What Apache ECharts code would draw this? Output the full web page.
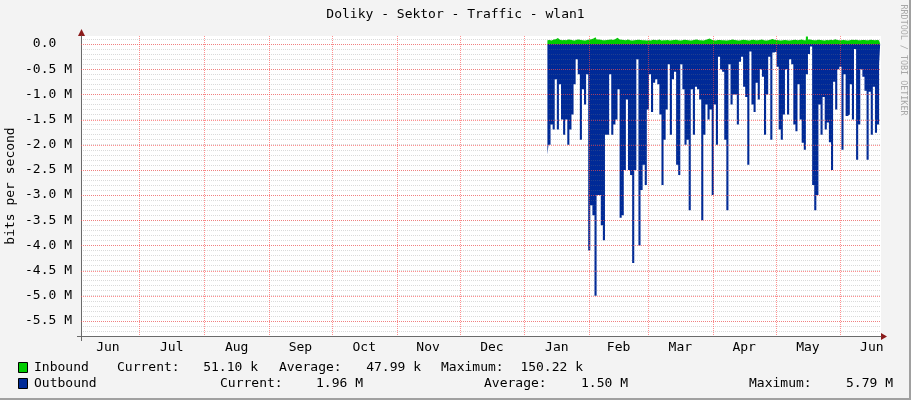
<!DOCTYPE html>
<html><head><meta charset="utf-8">
<script src="https://cdn.jsdelivr.net/npm/echarts@6/dist/echarts.min.js"></script>
<style>html,body{margin:0;padding:0;background:#f3f3f3}#c{width:911px;height:400px}</style>
</head><body><div id="c"></div>
<script>
// ---- data (x unit: days counted from Jul 1) ----
const monthNames = ['Jun','Jul','Aug','Sep','Oct','Nov','Dec','Jan','Feb','Mar','Apr','May','Jun'];
const monthMidDays = [-15, 15.5, 46.5, 77, 107.5, 138, 168.5, 199.5, 229, 258.5, 289, 319.5, 350];
const monthStartDays = [0, 31, 62, 92, 123, 153, 184, 215, 243, 274, 304, 335];
const xMinDay = -27.86, xMaxDay = 354.4;
const dataStartDay = 195; // Jan 12, one sample per day

const yTickValuesM = [0, -0.5, -1, -1.5, -2, -2.5, -3, -3.5, -4, -4.5, -5, -5.5];
const yTickLabels = ['0.0  ', '-0.5 M', '-1.0 M', '-1.5 M', '-2.0 M', '-2.5 M', '-3.0 M', '-3.5 M', '-4.0 M', '-4.5 M', '-5.0 M', '-5.5 M'];

// Inbound (kbit/s)
const inboundKbps = [
 78,82,70,88,95,120,85,76,80,74, 90,84,78,72,86,92,80,75,70,82, 88,96,110,135,90,84,78,76,80,86, 92,82,
 100,125,90,84,80,76,88,74,70,78, 82,86,80,76,74,72,78,70,84,80, 76,90,72,74,78,82,70,76,80,86, 74,70,
 78,84,80,76,72,74,86,90,78,76, 72,80,95,110,84,76,72,80,82,78, 74,70,76,82,88,80,76,72,78,84, 80,76,
 72,80,86,78,74,82,90,76,72,78, 84,100,86,80,74,72,78,82,76,70, 74,80,86,78,82,90,76,74,150,88, 80,76,
 78,84,80,74,72,80,76,84,78,96, 82,76,74,80,78,72,76,84,80,86, 78,74,80,82,76,78,84,80,76,82, 78,74
];
// Outbound (Mbit/s, drawn below zero)
const outboundMbps = [
 2.2,2.0,1.6,1.7,0.7,1.7,0.8,1.5,1.8,1.5, 2.0,1.7,1.4,0.8,0.3,0.6,1.9,0.9,1.2,0.6,
 4.1,3.2,3.4,5.0,3.0,3.0,3.6,3.9,1.8,1.8, 0.6,1.8,1.6,1.5,0.9,3.45,3.4,2.5,1.1,2.5,
 2.6,4.35,2.5,0.3,4.0,2.9,2.4,2.8,1.3,0.6, 1.35,0.77,0.7,0.8,1.4,2.8,1.9,1.3,0.4,1.8,
 0.7,0.55,2.4,2.6,0.4,0.9,2.0,1.9,3.3,0.9, 1.8,0.85,0.9,1.1,3.5,1.8,1.2,1.5,1.3,3.0,
 1.2,2.0,0.25,0.5,0.55,1.9,3.3,0.4,1.2,1.0, 1.0,1.6,0.35,0.25,0.85,1.05,2.4,0.15,1.2,1.35,
 0.77,1.1,0.5,0.65,1.8,1.0,0.25,1.9,0.17,0.15, 0.45,1.7,1.9,1.4,0.5,1.4,0.3,0.4,1.6,1.73,
 0.8,1.5,1.96,2.1,0.6,0.2,0.05,2.8,3.3,3.0, 1.2,1.8,1.05,1.7,1.56,1.95,2.5,0.75,1.3,0.5,
 0.45,2.1,0.6,1.43,1.4,0.8,1.5,0.1,2.3,1.6, 0.5,0.65,0.93,2.3,0.95,1.8,0.85,1.76,1.6,0.4
];

const inboundStats = ['51.10 k', '47.99 k', '150.22 k'];
const outboundStats = ['1.96 M', '1.50 M', '5.79 M'];

// ---- chart ----
const FONT = '"DejaVu Sans Mono", monospace';
const GRAY = 'rgba(120,120,120,0.27)', RED = 'rgba(255,70,70,0.6)';
const chart = echarts.init(document.getElementById('c'), null, {renderer: 'canvas'});

function txt(x, y, s, align, extra) {
  return Object.assign({type: 'text', x: x, y: y, silent: true,
    style: {text: s, fill: '#000', font: '13px ' + FONT, textAlign: align || 'left', textVerticalAlign: 'middle'}}, extra || {});
}

const graphics = [
  {type: 'rect', shape: {x: 909, y: 0, width: 2, height: 400}, style: {fill: '#a0a0a0'}, silent: true},
  {type: 'rect', shape: {x: 0, y: 398, width: 911, height: 2}, style: {fill: '#a0a0a0'}, silent: true},
  txt(455.5, 15, 'Doliky - Sektor - Traffic - wlan1', 'center'),
  txt(11, 186, 'bits per second', 'center', {rotation: Math.PI / 2}),
  {type: 'text', x: 903, y: 60, rotation: -Math.PI / 2, silent: true,
   style: {text: 'RRDTOOL / TOBI OETIKER', fill: '#a8a8a8', font: '8.4px ' + FONT, textAlign: 'center', textVerticalAlign: 'middle'}},
  // axis overshoot + arrows
  {type: 'line', shape: {x1: 77, y1: 336.5, x2: 81, y2: 336.5}, style: {stroke: '#6a6a6a', lineWidth: 1}, silent: true},
  {type: 'line', shape: {x1: 81.5, y1: 336, x2: 81.5, y2: 341}, style: {stroke: '#6a6a6a', lineWidth: 1}, silent: true},
  {type: 'polygon', shape: {points: [[78, 36], [85, 36], [81.5, 29]]}, style: {fill: '#8b1a1a'}, silent: true},
  {type: 'polygon', shape: {points: [[881, 333], [881, 340], [887, 336.5]]}, style: {fill: '#8b1a1a'}, silent: true},
  // legend
  {type: 'rect', shape: {x: 18.5, y: 362.5, width: 9, height: 10}, style: {fill: '#00cc00', stroke: '#000', lineWidth: 1}, silent: true},
  {type: 'rect', shape: {x: 18.5, y: 378.5, width: 9, height: 10}, style: {fill: '#002a97', stroke: '#000', lineWidth: 1}, silent: true},
  txt(34, 368, 'Inbound'), txt(117, 368, 'Current:'), txt(258, 368, inboundStats[0], 'right'),
  txt(279, 368, 'Average:'), txt(421, 368, inboundStats[1], 'right'),
  txt(441, 368, 'Maximum:'), txt(583, 368, inboundStats[2], 'right'),
  txt(34, 384, 'Outbound'), txt(220, 384, 'Current:'), txt(363, 384, outboundStats[0], 'right'),
  txt(484, 384, 'Average:'), txt(628, 384, outboundStats[1], 'right'),
  txt(749, 384, 'Maximum:'), txt(893, 384, outboundStats[2], 'right')
];

// major grid drawn through the axes' scales (custom series), snapped to pixels
function gridLineRenderer(vertical) {
  return function (params, api) {
    const cs = params.coordSys;
    const p = api.coord([api.value(0), api.value(1)]);
    if (vertical) {
      const x = Math.round(p[0]) + 0.5;
      return {type: 'line', silent: true,
        shape: {x1: x, y1: cs.y, x2: x, y2: cs.y + cs.height},
        style: {stroke: RED, lineWidth: 1, lineDash: [1, 1]}};
    }
    const y = Math.round(p[1]) + 0.5;
    return {type: 'line', silent: true,
      shape: {x1: cs.x, y1: y, x2: cs.x + cs.width, y2: y},
      style: {stroke: RED, lineWidth: 1, lineDash: [1, 1]}};
  };
}

const option = {
  animation: false,
  backgroundColor: '#f3f3f3',
  grid: {left: 81, top: 36, width: 800, height: 300, show: true, backgroundColor: '#ffffff', borderWidth: 0},
  xAxis: {
    type: 'value', min: xMinDay, max: xMaxDay, z: 10,
    axisLine: {show: true, onZero: false, lineStyle: {color: '#6a6a6a', width: 1}},
    axisTick: {show: false},
    splitLine: {show: false},
    axisLabel: {
      customValues: monthMidDays, margin: 5, color: '#000', fontFamily: FONT, fontSize: 13,
      formatter: function (v) {
        const i = monthMidDays.findIndex(m => Math.abs(m - v) < 1e-6);
        return i >= 0 ? monthNames[i] : '';
      }
    }
  },
  yAxis: {
    type: 'value', min: -5.8e6, max: 0.16e6, interval: 1e5, z: 10,
    axisLine: {show: true, onZero: false, lineStyle: {color: '#6a6a6a', width: 1}},
    axisTick: {show: false},
    splitLine: {show: true, showMaxLine: false, showMinLine: false, lineStyle: {color: GRAY, type: [1, 1], width: 1}},
    axisLabel: {
      margin: 9, color: '#000', fontFamily: FONT, fontSize: 13,
      formatter: function (v) {
        const m = Math.round(v / 1e5);
        if (m % 5 !== 0) return '';
        const i = yTickValuesM.findIndex(t => Math.round(t * 10) === m);
        return i >= 0 ? yTickLabels[i] : '';
      }
    }
  },
  series: [
    {
      name: 'Inbound', type: 'line', step: 'middle', showSymbol: false, z: 2,
      lineStyle: {width: 0, opacity: 0},
      areaStyle: {color: '#00cc00', opacity: 1},
      data: inboundKbps.map((v, k) => [dataStartDay + k, v * 1e3])
    },
    {
      name: 'Outbound', type: 'line', step: 'middle', showSymbol: false, z: 3,
      lineStyle: {width: 0, opacity: 0},
      areaStyle: {color: '#002a97', opacity: 1},
      data: outboundMbps.map((v, k) => [dataStartDay + k, -v * 1e6])
    },
    {
      type: 'custom', z: 20, silent: true, clip: false,
      renderItem: gridLineRenderer(true),
      encode: {x: 0, y: 1},
      data: monthStartDays.map(d => [d, 0])
    },
    {
      type: 'custom', z: 20, silent: true, clip: false,
      renderItem: gridLineRenderer(false),
      encode: {x: 0, y: 1},
      data: yTickValuesM.map(v => [0, v * 1e6])
    }
  ],
  graphic: graphics
};
chart.setOption(option);
</script>
</body></html>
